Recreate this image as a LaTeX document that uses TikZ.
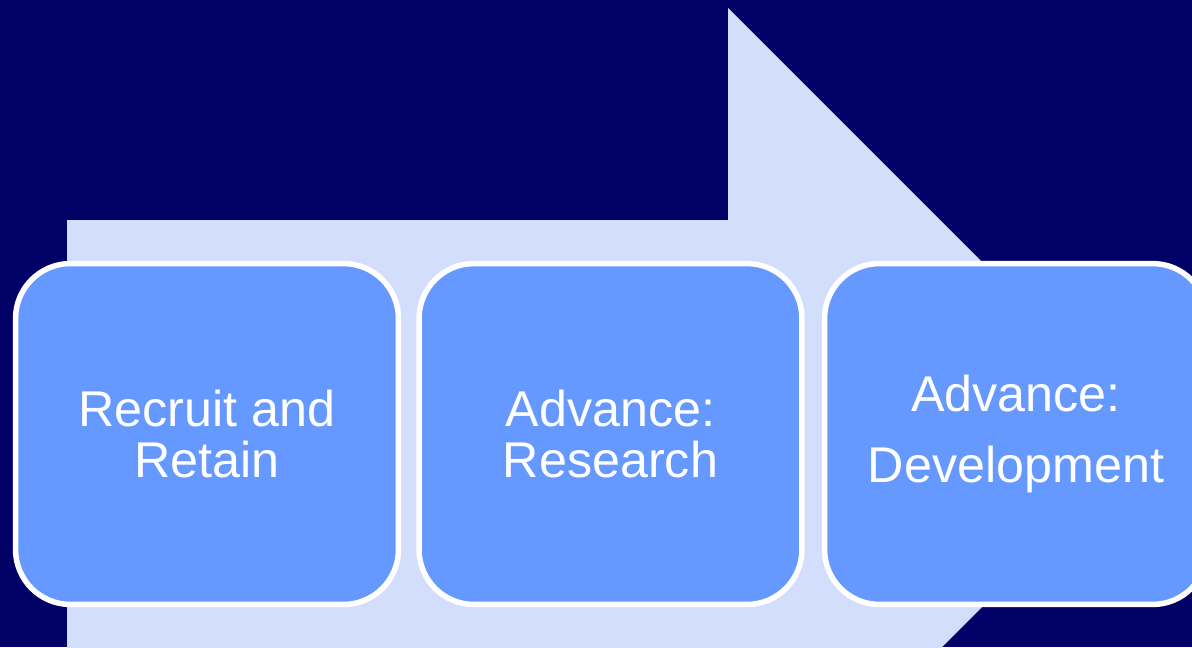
\documentclass[tikz,border=0pt]{standalone}
\usepackage{fontspec}
\setmainfont{Liberation Sans}
\usepackage{xcolor}
\usetikzlibrary{positioning,shapes}

\definecolor{navy}{RGB}{0,0,102}
\definecolor{arrowblue}{RGB}{211,222,252}
\definecolor{boxblue}{RGB}{102,153,255}

\tikzset{
  stage/.style={draw=white, line width=0.11cm, fill=boxblue, rounded corners=1.1cm,
    minimum width=7.66cm, minimum height=6.82cm, inner sep=0pt,
    text=white, align=center, font=\fontsize{28.6}{29.3}\selectfont},
  wide/.style={font=\fontsize{28.6}{40.4}\selectfont}
}

\begin{document}
\begin{tikzpicture}[x=0.02cm,y=-0.02cm]
        \useasboundingbox (0,0) rectangle (1192,647);
        \clip (0,0) rectangle (1192,647);
        \fill [navy] (0,0) rectangle (1192,647);

        % big arrow behind the stages
        \fill [arrowblue] (67,220) -- (728,220) -- (728,8) -- (1154.5,434.5)
              -- (728,861) -- (728,649) -- (67,649) -- cycle;

        \node [stage] (recruit) at (207,434) {Recruit and\\Retain};
        \node [stage] (research) at (610.5,434) {Advance:\\Research};
        \node [stage, wide] (develop) at (1016,434) {Advance:\\Development};
      \end{tikzpicture}
\end{document}
